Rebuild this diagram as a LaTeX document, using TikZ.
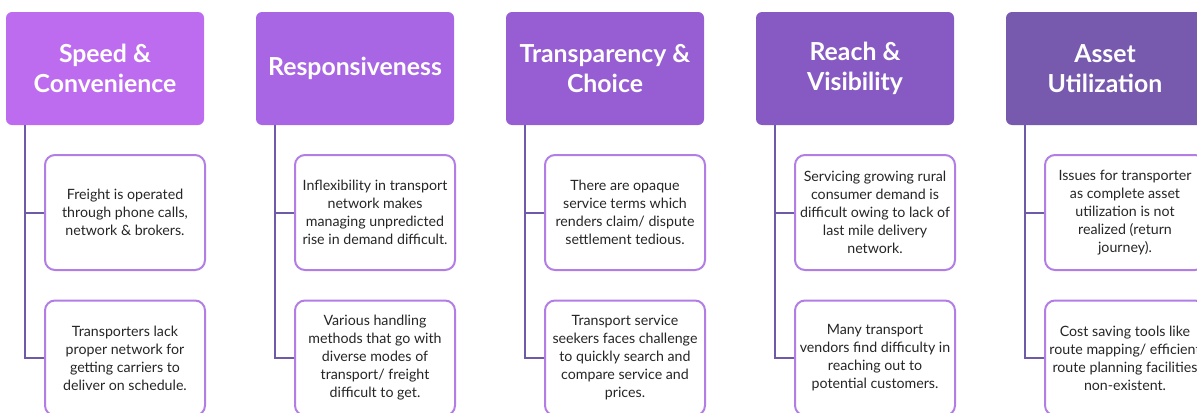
\documentclass[tikz,border=0pt]{standalone}
\usepackage{fontspec}
\setmainfont{Lato}
\usetikzlibrary{positioning}

\definecolor{headA}{HTML}{BE6CEF}
\definecolor{headB}{HTML}{A966E4}
\definecolor{headC}{HTML}{975DD3}
\definecolor{headD}{HTML}{875AC3}
\definecolor{headE}{HTML}{7759AE}
\definecolor{trunk}{HTML}{6F5AA8}
\definecolor{frame}{HTML}{B27EE6}

\begin{document}
\begin{tikzpicture}
        [x=0.5pt, y=-0.5pt,
        head/.style={rounded corners=3pt, minimum width=99pt, minimum height=56.5pt, inner sep=0pt,
          align=center, text=white, font=\fontsize{12.4}{15}\selectfont\bfseries},
        issue/.style={draw=frame, line width=1pt, rounded corners=5pt, fill=white, minimum width=80pt,
          minimum height=57.5pt, inner sep=0pt, align=center, text=black!85, font=\fontsize{7.1}{9}\selectfont},
        edge/.style={trunk, line width=1pt}]

        \useasboundingbox (0,0) rectangle (1197,412);

        % headers
        \node[head, fill=headA] (h1) at (105,68.5) {Speed \&\\Convenience};
        \node[head, fill=headB] (h2) at (355,68.5) {Responsiveness};
        \node[head, fill=headC] (h3) at (605,68.5) {Transparency \&\\Choice};
        \node[head, fill=headD] (h4) at (855,68.5) {Reach \&\\Visibility};
        \node[head, fill=headE] (h5) at (1105,68.5) {Asset\\Utilization};

        % first row of issues
        \node[issue] (a1) at (125,212.5) {Freight is operated\\through phone calls,\\network \& brokers.};
        \node[issue] (a2) at (375,212.5) {Inflexibility in transport\\network makes\\managing unpredicted\\rise in demand difficult.};
        \node[issue] (a3) at (625,212.5) {There are opaque\\service terms which\\renders claim/ dispute\\settlement tedious.};
        \node[issue] (a4) at (875,212.5) {Servicing growing rural\\consumer demand is\\difficult owing to lack of\\last mile delivery\\network.};
        \node[issue] (a5) at (1125,212.5) {Issues for transporter\\as complete asset\\utilization is not\\realized (return\\journey).};

        % second row of issues
        \node[issue] (b1) at (125,358) {Transporters lack\\proper network for\\getting carriers to\\deliver on schedule.};
        \node[issue] (b2) at (375,358) {Various handling\\methods that go with\\diverse modes of\\transport/ freight\\difficult to get.};
        \node[issue] (b3) at (625,358) {Transport service\\seekers faces challenge\\to quickly search and\\compare service and\\prices.};
        \node[issue] (b4) at (875,358) {Many transport\\vendors find difficulty in\\reaching out to\\potential customers.};
        \node[issue] (b5) at (1125,358) {Cost saving tools like\\route mapping/ efficient\\route planning facilities\\non-existent.};

        % connectors
        \draw[edge] (h1.south west) ++(19,0) |- (a1.west);
        \draw[edge] (h1.south west) ++(19,0) |- (b1.west);
        \draw[edge] (h2.south west) ++(19,0) |- (a2.west);
        \draw[edge] (h2.south west) ++(19,0) |- (b2.west);
        \draw[edge] (h3.south west) ++(19,0) |- (a3.west);
        \draw[edge] (h3.south west) ++(19,0) |- (b3.west);
        \draw[edge] (h4.south west) ++(19,0) |- (a4.west);
        \draw[edge] (h4.south west) ++(19,0) |- (b4.west);
        \draw[edge] (h5.south west) ++(19,0) |- (a5.west);
        \draw[edge] (h5.south west) ++(19,0) |- (b5.west);

        \end{tikzpicture}
\end{document}
